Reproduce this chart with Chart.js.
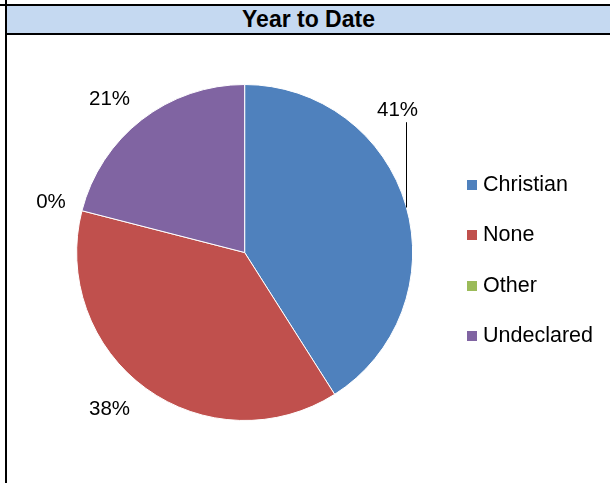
<!DOCTYPE html>
<html>
<head>
<meta charset="utf-8">
<script src="https://cdn.jsdelivr.net/npm/chart.js@4/dist/chart.umd.min.js"></script>
<style>
    html, body {
        margin: 0;
        padding: 0;
        background: #fff;
    }
    #sheet {
        position: relative;
        width: 610px;
        height: 483px;
        overflow: hidden;
        font-family: "Liberation Sans", Arial, sans-serif;
    }
    #topRule {
        position: absolute;
        left: 0;
        top: 4px;
        width: 610px;
        height: 2px;
        background: #000;
    }
    #header {
        position: absolute;
        left: 7px;
        top: 6px;
        width: 603px;
        height: 27px;
        background: #c5d9f1;
        border-bottom: 2px solid #000;
        text-align: center;
        font-weight: bold;
        font-size: 23px;
        line-height: 27px;
        color: #000;
    }
    #leftRule {
        position: absolute;
        left: 5px;
        top: 0;
        width: 2px;
        height: 483px;
        background: #000;
    }
    #chartBox {
        position: absolute;
        left: 8px;
        top: 35px;
        width: 602px;
        height: 448px;
    }
</style>
</head>
<body>
<div id="sheet">
    <div id="topRule"></div>
    <div id="header">Year to Date</div>
    <div id="leftRule"></div>
    <div id="chartBox"><canvas id="pieChart" width="602" height="448"></canvas></div>
</div>

<script>
// Year-to-date breakdown
const categories = ['Christian', 'None', 'Other', 'Undeclared'];
const shares = [41, 38, 0, 21];
const sliceColors = ['#4f81bd', '#c0504d', '#9bbb59', '#8064a2'];

const FONT = '"Liberation Sans", Arial, sans-serif';

// small square swatches for the legend
function swatch(color) {
    const c = document.createElement('canvas');
    c.width = 10;
    c.height = 10;
    const g = c.getContext('2d');
    g.fillStyle = color;
    g.fillRect(0, 0, 10, 10);
    return c;
}

// Percent labels just outside each slice. A label can be nudged round
// the rim, or pinned to its own angle with a leader line back to the pie.
const outsideLabels = {
    id: 'outsideLabels',
    afterDatasetsDraw(chart, args, opts) {
        const ctx = chart.ctx;
        const meta = chart.getDatasetMeta(0);
        const data = chart.data.datasets[0].data;
        const total = data.reduce((a, b) => a + b, 0);

        ctx.save();
        ctx.font = opts.size + 'px ' + FONT;
        ctx.fillStyle = '#000';
        ctx.textAlign = 'center';
        ctx.textBaseline = 'middle';

        meta.data.forEach((arc, i) => {
            const {x, y, startAngle, endAngle, outerRadius} = arc.getProps(
                ['x', 'y', 'startAngle', 'endAngle', 'outerRadius'], true);
            const text = Math.round(data[i] / total * 100) + '%';
            const w = ctx.measureText(text).width;
            const h = opts.size;
            const tweak = opts.tweaks[i] || {};

            let angle = (startAngle + endAngle) / 2;
            if (tweak.angle !== undefined) angle = (tweak.angle - 90) * Math.PI / 180;
            if (tweak.nudge) angle += tweak.nudge * Math.PI / 180;

            const s = Math.cos(angle), c = Math.sin(angle);
            const gap = tweak.gap !== undefined ? tweak.gap : opts.gap;
            const dist = outerRadius + gap + Math.abs(s) * w / 2 + Math.abs(c) * h / 2;
            const lx = x + s * dist;
            const ly = y + c * dist;
            ctx.fillText(text, lx, ly);

            if (tweak.leaderX !== undefined) {
                const px = Math.round(lx + tweak.leaderX) + 0.5;
                const rimY = y - Math.sqrt(Math.max(0, outerRadius * outerRadius - (px - x) * (px - x)));
                ctx.strokeStyle = '#000';
                ctx.lineWidth = 1;
                ctx.beginPath();
                ctx.moveTo(px, ly + h / 2 + 2);
                ctx.lineTo(px, rimY);
                ctx.stroke();
            }
        });
        ctx.restore();
    }
};

new Chart(document.getElementById('pieChart'), {
    type: 'pie',
    data: {
        labels: categories,
        datasets: [{
            data: shares,
            backgroundColor: sliceColors,
            borderColor: '#ffffff',
            borderWidth: 1
        }]
    },
    options: {
        responsive: false,
        animation: false,
        events: [],
        layout: {
            padding: {left: 39, right: 7, top: 49, bottom: 62}
        },
        plugins: {
            tooltip: {enabled: false},
            legend: {
                position: 'right',
                // blank title only pushes the entries down a little
                title: {display: true, text: ' ', font: {size: 10}, padding: {top: 0, bottom: 4}},
                labels: {
                    usePointStyle: true,
                    pointStyleWidth: 1,
                    boxHeight: 10,
                    padding: 29,
                    color: '#000',
                    font: {family: FONT, size: 21.5},
                    generateLabels(chart) {
                        const items = Chart.overrides.pie.plugins.legend.labels.generateLabels(chart);
                        items.forEach(item => {
                            item.pointStyle = swatch(item.fillStyle);
                            item.lineWidth = 0;
                        });
                        return items;
                    }
                }
            },
            outsideLabels: {
                size: 20.5,
                gap: 15,
                tweaks: {
                    0: {angle: 47, gap: 19, leaderX: 8.5},
                    1: {nudge: 4.7, gap: 18},
                    3: {nudge: -3.6}
                }
            }
        }
    },
    plugins: [outsideLabels]
});
</script>
</body>
</html>
